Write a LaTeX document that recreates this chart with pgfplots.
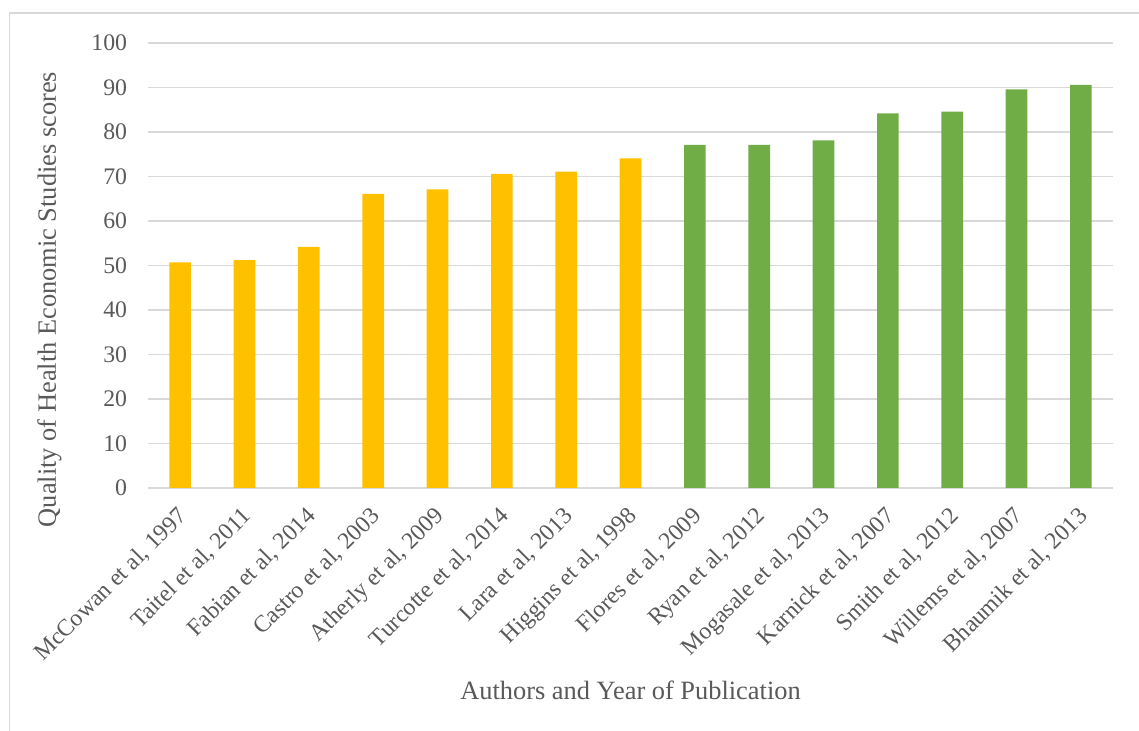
\documentclass[border=0pt]{standalone}
\usepackage{pgfplots}
\pgfplotsset{compat=1.18}
\usepackage{fontspec}
\setmainfont{Liberation Serif}

\definecolor{barYellow}{HTML}{FFC000}
\definecolor{barGreen}{HTML}{70AD47}
\definecolor{gridGray}{HTML}{D9D9D9}
\definecolor{textGray}{HTML}{595959}

\begin{document}
\begin{tikzpicture}
% page extent and outer frame of the chart area
\useasboundingbox (-111pt,-182.25pt) rectangle (743.25pt,366pt);
\draw[gridGray, line width=1.1pt] (-103.9pt,-190pt) -- (-103.9pt,356.25pt) -- (760pt,356.25pt);

\begin{axis}[
    at={(0pt,0pt)}, anchor=south west,
    scale only axis,
    width=723.75pt, height=333.75pt,
    xmin=-0.5, xmax=14.5,
    ymin=0, ymax=100,
    ytick={0,10,...,100},
    xtick={0,...,14},
    xticklabels={{McCowan et al, 1997}, {Taitel et al, 2011}, {Fabian et al, 2014},
      {Castro et al, 2003}, {Atherly et al, 2009}, {Turcotte et al, 2014},
      {Lara et al, 2013}, {Higgins et al, 1998}, {Flores et al, 2009},
      {Ryan et al, 2012}, {Mogasale et al, 2013}, {Karnick et al, 2007},
      {Smith et al, 2012}, {Willems et al, 2007}, {Bhaumik et al, 2013}},
    axis line style={draw=none},
    major tick length=0pt,
    ymajorgrids,
    grid style={gridGray, line width=1.1pt},
    tick label style={font=\fontsize{17.8}{20}\selectfont, text=textGray},
    /pgf/number format/assume math mode=true,
    yticklabel style={anchor=east, inner sep=0pt, xshift=-15.5pt},
    xticklabel style={xshift=2.5pt, yshift=-18.5pt, rotate=45, anchor=east, inner sep=0pt},
    every axis x label/.style={at={(axis description cs:0.5,0)}, yshift=-151.5pt, anchor=center},
    every axis y label/.style={at={(axis description cs:0,0.5)}, xshift=-74pt, yshift=-25.5pt, rotate=90, anchor=center},
    label style={font=\fontsize{19.8}{22}\selectfont, text=textGray},
    xlabel={Authors and Year of Publication},
    ylabel={Quality of Health Economic Studies scores},
    ybar, bar width=16.25pt, bar shift=0pt,
    clip=false,
]
% lower-scoring studies
\addplot[fill=barYellow, draw=none] coordinates {
  (0,50.7) (1,51.2) (2,54.2) (3,66.1) (4,67.1) (5,70.6) (6,71.1) (7,74.1)
};
% higher-scoring studies
\addplot[fill=barGreen, draw=none] coordinates {
  (8,77.1) (9,77.1) (10,78.1) (11,84.2) (12,84.6) (13,89.6) (14,90.6)
};
\end{axis}
\end{tikzpicture}
\end{document}
